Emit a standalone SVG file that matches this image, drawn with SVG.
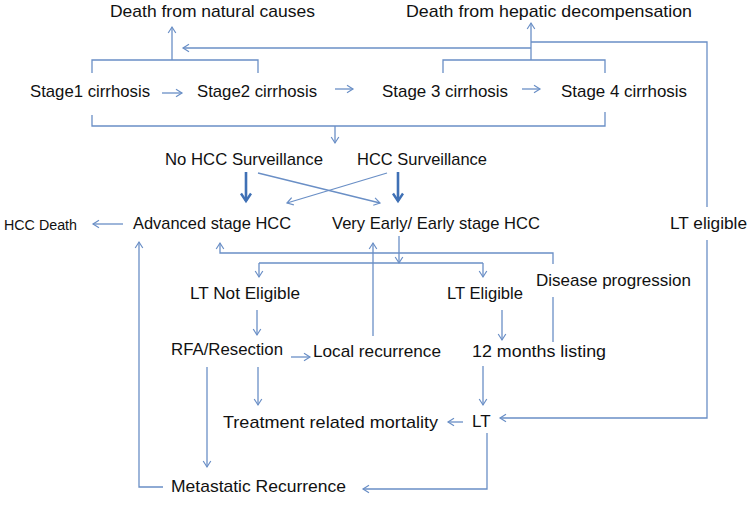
<svg xmlns="http://www.w3.org/2000/svg" width="755" height="505" viewBox="0 0 755 505">
<style>
  text { font-family: "Liberation Sans", Arial, sans-serif; font-size: 17px; fill: #111; }
  .sm { font-size: 14px; }
  .c { fill: none; stroke: #6a8fc6; stroke-width: 1.3; }
  .ca { fill: none; stroke: #6a8fc6; stroke-width: 1.3; marker-end: url(#a); }
  .ct { fill: none; stroke: #3f70b5; stroke-width: 2.6; marker-end: url(#b); }
</style>
<defs>
  <marker id="a" markerUnits="userSpaceOnUse" markerWidth="10" markerHeight="10" refX="7.5" refY="5" orient="auto">
    <path d="M1.5,1.2 L7.5,5 L1.5,8.8" fill="none" stroke="#6a8fc6" stroke-width="1.2"/>
  </marker>
  <marker id="b" markerUnits="userSpaceOnUse" markerWidth="14" markerHeight="14" refX="10" refY="7" orient="auto">
    <path d="M2.5,2 L10,7 L2.5,12" fill="none" stroke="#3f70b5" stroke-width="2.4"/>
  </marker>
</defs>
<rect width="755" height="505" fill="#fff"/>
<g id="connectors">
  <path class="c" d="M92,73 V60 H258 V73"/>
  <path class="ca" d="M172,60 V27"/>
  <path class="c" d="M443,73 V60 H605 V73"/>
  <path class="ca" d="M531,60 V23"/>
  <path class="ca" d="M531,48 H183"/>
  <path class="c" d="M531,42 H707 V207"/>
  <path class="ca" d="M707,240 V418 H500"/>
  <path class="c" d="M92,115 V126 H605 V112"/>
  <path class="ca" d="M335,126 V143"/>
  <path class="ca" d="M162,93 H182"/>
  <path class="ca" d="M335,89 H353"/>
  <path class="ca" d="M522,89 H540"/>
  <path class="ct" d="M246,172 V201"/>
  <path class="ct" d="M398,172 V201"/>
  <path class="ca" d="M258,173 L380,203"/>
  <path class="ca" d="M387,173 L287,203"/>
  <path class="ca" d="M123,224 H93"/>
  <path class="ca" d="M163,487 H139 V242"/>
  <path class="c" d="M553,342 V297"/>
  <path class="ca" d="M553,264 V253 H220 V243"/>
  <path class="ca" d="M373,336 V243"/>
  <path class="ca" d="M399,236 V263"/>
  <path class="c" d="M259,263 H483"/>
  <path class="ca" d="M259,263 V277"/>
  <path class="ca" d="M483,263 V277"/>
  <path class="ca" d="M257,310 V335"/>
  <path class="ca" d="M291,357 H310"/>
  <path class="ca" d="M258,367 V405"/>
  <path class="ca" d="M207,367 V467"/>
  <path class="ca" d="M502,310 V340"/>
  <path class="ca" d="M483,366 V405"/>
  <path class="ca" d="M463,422 H448"/>
  <path class="ca" d="M487,433 V489 H363"/>
</g>
<g id="death-natural"><text x="110" y="17" textLength="205" lengthAdjust="spacingAndGlyphs">Death from natural causes</text></g>
<g id="death-hepatic"><text x="406" y="17" textLength="286" lengthAdjust="spacingAndGlyphs">Death from hepatic decompensation</text></g>
<g id="stage1"><text x="30" y="97" textLength="120" lengthAdjust="spacingAndGlyphs">Stage1 cirrhosis</text></g>
<g id="stage2"><text x="197" y="97" textLength="120" lengthAdjust="spacingAndGlyphs">Stage2 cirrhosis</text></g>
<g id="stage3"><text x="382" y="97" textLength="126" lengthAdjust="spacingAndGlyphs">Stage 3 cirrhosis</text></g>
<g id="stage4"><text x="561" y="97" textLength="126" lengthAdjust="spacingAndGlyphs">Stage 4 cirrhosis</text></g>
<g id="no-surveillance"><text x="165" y="165" textLength="158" lengthAdjust="spacingAndGlyphs">No HCC Surveillance</text></g>
<g id="surveillance"><text x="357" y="165" textLength="130" lengthAdjust="spacingAndGlyphs">HCC Surveillance</text></g>
<g id="hcc-death"><text class="sm" x="4" y="230" textLength="73" lengthAdjust="spacingAndGlyphs">HCC Death</text></g>
<g id="advanced"><text x="133" y="229" textLength="158" lengthAdjust="spacingAndGlyphs">Advanced stage HCC</text></g>
<g id="early"><text x="332" y="229" textLength="208" lengthAdjust="spacingAndGlyphs">Very Early/ Early stage HCC</text></g>
<g id="lt-eligible-side"><text x="670" y="229" textLength="77" lengthAdjust="spacingAndGlyphs">LT eligible</text></g>
<g id="lt-not-eligible"><text x="190" y="299" textLength="110" lengthAdjust="spacingAndGlyphs">LT Not Eligible</text></g>
<g id="lt-eligible"><text x="447" y="299" textLength="76" lengthAdjust="spacingAndGlyphs">LT Eligible</text></g>
<g id="disease-progression"><text x="536" y="286" textLength="155" lengthAdjust="spacingAndGlyphs">Disease progression</text></g>
<g id="rfa"><text x="171" y="355" textLength="112" lengthAdjust="spacingAndGlyphs">RFA/Resection</text></g>
<g id="local-recurrence"><text x="313" y="357" textLength="128" lengthAdjust="spacingAndGlyphs">Local recurrence</text></g>
<g id="listing"><text x="472" y="357" textLength="134" lengthAdjust="spacingAndGlyphs">12 months listing</text></g>
<g id="treatment-mortality"><text x="223" y="428" textLength="215" lengthAdjust="spacingAndGlyphs">Treatment related mortality</text></g>
<g id="lt"><text x="472" y="427">LT</text></g>
<g id="metastatic"><text x="171" y="492" textLength="175" lengthAdjust="spacingAndGlyphs">Metastatic Recurrence</text></g>
</svg>
